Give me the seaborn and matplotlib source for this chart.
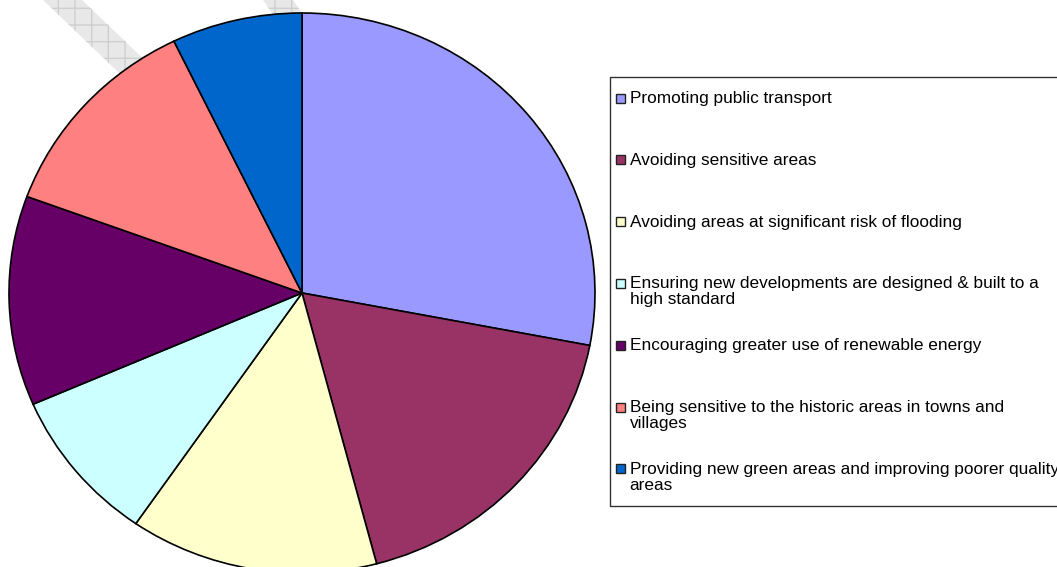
import textwrap
import matplotlib
matplotlib.use("Agg")
import matplotlib.pyplot as plt
from matplotlib.patches import Rectangle, Polygon
import seaborn as sns

# data (share of responses, %)
categories = [
    "Promoting public transport",
    "Avoiding sensitive areas",
    "Avoiding areas at significant risk of flooding",
    "Ensuring new developments are designed & built to a high standard",
    "Encouraging greater use of renewable energy",
    "Being sensitive to the historic areas in towns and villages",
    "Providing new green areas and improving poorer quality areas",
]
shares = [28.0, 17.9, 13.7, 8.9, 12.1, 12.2, 7.2]
colors = ["#9999FF", "#993366", "#FFFFCC", "#CCFFFF", "#660066", "#FF8080", "#0066CC"]

sns.set_theme(style="white")
plt.rcParams["font.family"] = ["Liberation Sans", "DejaVu Sans"]

W, H = 1057, 567
fig = plt.figure(figsize=(W / 100, H / 100), dpi=100)
fig.patch.set_facecolor("white")

# background layer in pixel coords (watermark)
bg = fig.add_axes([0, 0, 1, 1], zorder=0)
bg.set_xlim(0, W)
bg.set_ylim(H, 0)
bg.axis("off")
for pts in ([(43, 0), (82, 0), (202, 115), (163, 115)],
            [(263, 0), (293, 0), (310, 25), (280, 25)]):
    bg.add_patch(Polygon(pts, closed=True, facecolor="#e8e8e8",
                         edgecolor="#cfcfcf", hatch="+", linewidth=0))

# pie layer, slightly elliptical like the original
cx, cy, rx, ry = 302, 293, 293, 280
ax = fig.add_axes([0, 0, 1, 1], zorder=1)
ax.patch.set_alpha(0)
ax.pie(shares, colors=sns.color_palette(colors), startangle=90, counterclock=False,
       wedgeprops=dict(edgecolor="black", linewidth=1.2))
ax.set_aspect("auto")
ax.set_xlim(-cx / rx, (W - cx) / rx)
ax.set_ylim((cy - H) / ry, cy / ry)
ax.axis("off")

# legend layer in pixel coords
lg = fig.add_axes([0, 0, 1, 1], zorder=2)
lg.patch.set_alpha(0)
lg.set_xlim(0, W)
lg.set_ylim(H, 0)
lg.axis("off")
lg.add_patch(Rectangle((610, 77), 460, 429, facecolor="white", edgecolor="#333333", linewidth=1))
for i, (name, col) in enumerate(zip(categories, colors)):
    y = 98.5 + i * 61.8
    lg.add_patch(Rectangle((615.5, y - 5), 9, 9, facecolor=col, edgecolor="#222222", linewidth=1))
    lg.text(629.5, y - 7.5, textwrap.fill(name, 54), fontsize=12.4, va="top", ha="left",
            color="black", linespacing=1.08)

fig.savefig("out.png", dpi=100)
